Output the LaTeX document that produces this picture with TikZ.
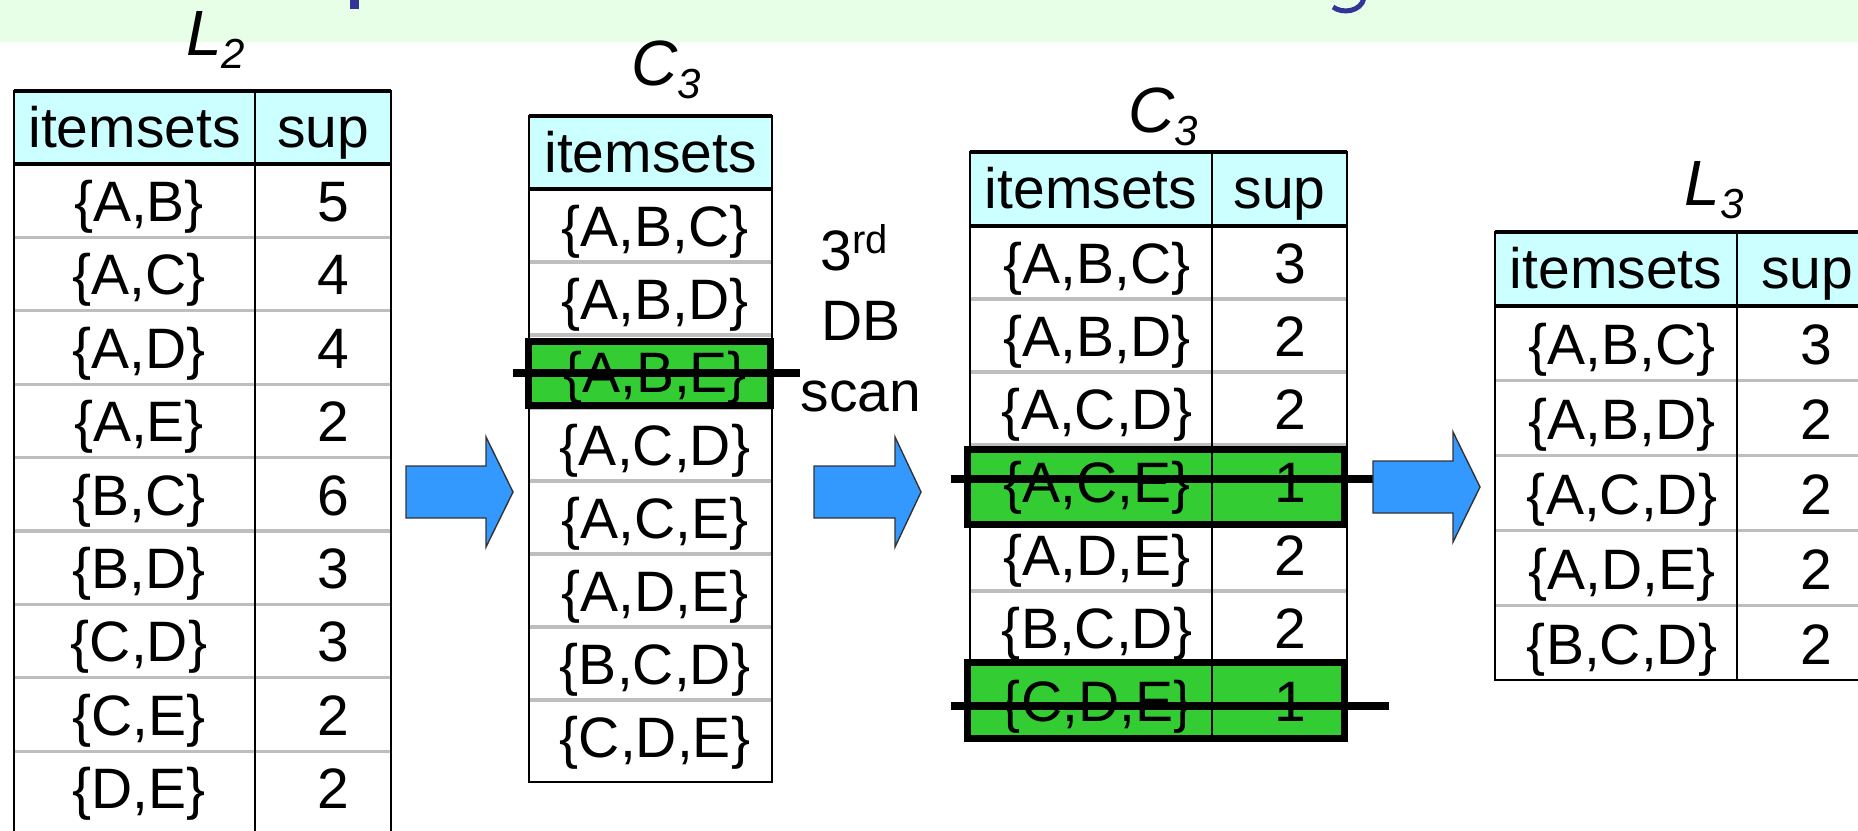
\documentclass[tikz,border=0pt]{standalone}
\usepackage{xcolor}
\usepackage{fontspec}
\setmainfont{Liberation Sans}
\usepackage{tikz}
\usetikzlibrary{arrows,calc,positioning}

\definecolor{bandgreen}{HTML}{E6FFE6}
\definecolor{hdrcyan}{HTML}{CCFFFF}
\definecolor{rowgray}{HTML}{BEBEBE}
\definecolor{arrowblue}{HTML}{3399FF}
\definecolor{cutgreen}{HTML}{33CC33}
\definecolor{titleblue}{HTML}{333399}

% italic table name with a lowered index
\newcommand{\tablbl}[2]{#1{\fontsize{21}{21}\selectfont\raisebox{-6.5pt}{#2}}}
% block arrow: tail x, head x, tip x, middle y
\newcommand{\blockarrow}[4]{%
  \draw[blockarr] (#1,#4-26) -- (#2,#4-26) -- (#2,#4-55) -- (#3,#4)
    -- (#2,#4+55) -- (#2,#4+26) -- (#1,#4+26) -- cycle;}

\begin{document}
\begin{tikzpicture}[x=0.5pt, y=-0.5pt,
    cell/.style={anchor=base, inner sep=0pt, font=\fontsize{28.5}{34}\selectfont},
    tlabel/.style={anchor=base west, inner sep=0pt, font=\fontsize{32}{38}\selectfont\itshape},
    rowline/.style={rowgray, line width=1.6pt},
    frame/.style={black, line width=1pt},
    hdrline/.style={black, line width=1.6pt},
    cutbox/.style={fill=cutgreen, draw=black, line width=3.5pt},
    strike/.style={black, line width=4pt},
    blockarr/.style={fill=arrowblue, draw=black!80, line width=0.7pt, line join=miter}]
        \useasboundingbox (0,0) rectangle (1858,830);
        \clip (0,0) rectangle (1858,830);

        % Title band (only the descenders of the title show)
        \fill[bandgreen] (0,0) rectangle (1858,42);
        \fill[titleblue] (350,0) rectangle (359,9);
        \draw[titleblue, line width=2.5pt] (1364,-2) .. controls (1361,12) and (1342,14) .. (1333,7);

        % L2
        \fill[hdrcyan] (14,91) rectangle (391,164);
        \foreach \k in {1,...,8}
            \draw[rowline] (14,164+73.4*\k) -- (391,164+73.4*\k);
        \draw[frame] (14,840) -- (14,91) -- (391,91) -- (391,840);
        \draw[frame] (255,91) -- (255,840);
        \draw[hdrline] (14,91) -- (391,91) (14,164) -- (391,164);
        \node[tlabel] (l2name) at (186,55) {\tablbl{L}{2}};
        \node[cell] (l2h1) at (134.5,147) {itemsets};
        \node[cell] (l2h2) at (323,147) {sup};
        \foreach \iset/\isup [count=\k] in {A{,}B/5, A{,}C/4, A{,}D/4, A{,}E/2, B{,}C/6,
                                            B{,}D/3, C{,}D/3, C{,}E/2, D{,}E/2} {
            \node[cell] (l2s\k) at (139,{164+73.4*\k-16}) {\{\iset\}};
            \node[cell] (l2n\k) at (333,{164+73.4*\k-16}) {\isup};
        }

        % C3 (candidates)
        \fill[hdrcyan] (529,116) rectangle (772,189);
        \foreach \k in {1,...,7}
            \draw[rowline] (529,189+73*\k) -- (772,189+73*\k);
        \draw[frame] (529,116) rectangle (772,782);
        \draw[hdrline] (529,116) -- (772,116) (529,189) -- (772,189);
        \draw[cutbox] (528.5,341.5) rectangle (770.5,405.5);
        \node[tlabel] (c3name) at (631,85) {\tablbl{C}{3}};
        \node[cell] (c3h1) at (650.5,172) {itemsets};
        \foreach \iset [count=\k] in {A{,}B{,}C, A{,}B{,}D, A{,}B{,}E, A{,}C{,}D,
                                      A{,}C{,}E, A{,}D{,}E, B{,}C{,}D, C{,}D{,}E}
            \node[cell] (c3s\k) at (655,{189+73*\k-16}) {\{\iset\}};
        \draw[strike] (513,373) -- (800,373);

        % 3rd DB scan
        \node[cell] (scan1) at (854,270) {3\raisebox{8.5pt}{\fontsize{20}{20}\selectfont rd}};
        \node[cell] (scan2) at (861,340) {DB};
        \node[cell] (scan3) at (861,411) {scan};

        % C3 (counted)
        \fill[hdrcyan] (970,152) rectangle (1347,226);
        \foreach \k in {1,...,6}
            \draw[rowline] (970,226+73*\k) -- (1347,226+73*\k);
        \draw[frame] (970,152) rectangle (1347,737);
        \draw[frame] (1212,152) -- (1212,737);
        \draw[hdrline] (970,152) -- (1347,152) (970,226) -- (1347,226);
        \draw[cutbox] (967,449) rectangle (1344,524);
        \draw[cutbox] (967,662) rectangle (1344,738);
        \draw[frame] (1212,445) -- (1212,741);
        \node[tlabel] (c3cname) at (1128,132) {\tablbl{C}{3}};
        \node[cell] (c3ch1) at (1091,208) {itemsets};
        \node[cell] (c3ch2) at (1279.5,208) {sup};
        \foreach \iset/\isup [count=\k] in {A{,}B{,}C/3, A{,}B{,}D/2, A{,}C{,}D/2, A{,}C{,}E/1,
                                            A{,}D{,}E/2, B{,}C{,}D/2, C{,}D{,}E/1} {
            \node[cell] (c3cs\k) at (1097,{226+73*\k-16}) {\{\iset\}};
            \node[cell] (c3cn\k) at (1290,{226+73*\k-16}) {\isup};
        }
        \draw[strike] (951,479) -- (1373,479);
        \draw[strike] (951,706) -- (1389,706);

        % L3
        \fill[hdrcyan] (1495,232) rectangle (1875,306);
        \foreach \k in {1,...,4}
            \draw[rowline] (1495,306+74.8*\k) -- (1875,306+74.8*\k);
        \draw[frame] (1875,680) -- (1495,680) -- (1495,232) -- (1875,232);
        \draw[frame] (1737,232) -- (1737,680);
        \draw[hdrline] (1495,232) -- (1875,232) (1495,306) -- (1875,306);
        \node[tlabel] (l3name) at (1684,205) {\tablbl{L}{3}};
        \node[cell] (l3h1) at (1616,288) {itemsets};
        \node[cell] (l3h2) at (1807,288) {sup};
        \foreach \iset/\isup [count=\k] in {A{,}B{,}C/3, A{,}B{,}D/2, A{,}C{,}D/2,
                                            A{,}D{,}E/2, B{,}C{,}D/2} {
            \node[cell] (l3s\k) at (1622,{306+74.8*\k-16}) {\{\iset\}};
            \node[cell] (l3n\k) at (1816,{306+74.8*\k-16}) {\isup};
        }

        % Arrows between the tables
        \blockarrow{406}{486}{513}{492}
        \blockarrow{814}{895}{921}{492}
        \blockarrow{1373}{1453}{1480}{487}
    \end{tikzpicture}
\end{document}
